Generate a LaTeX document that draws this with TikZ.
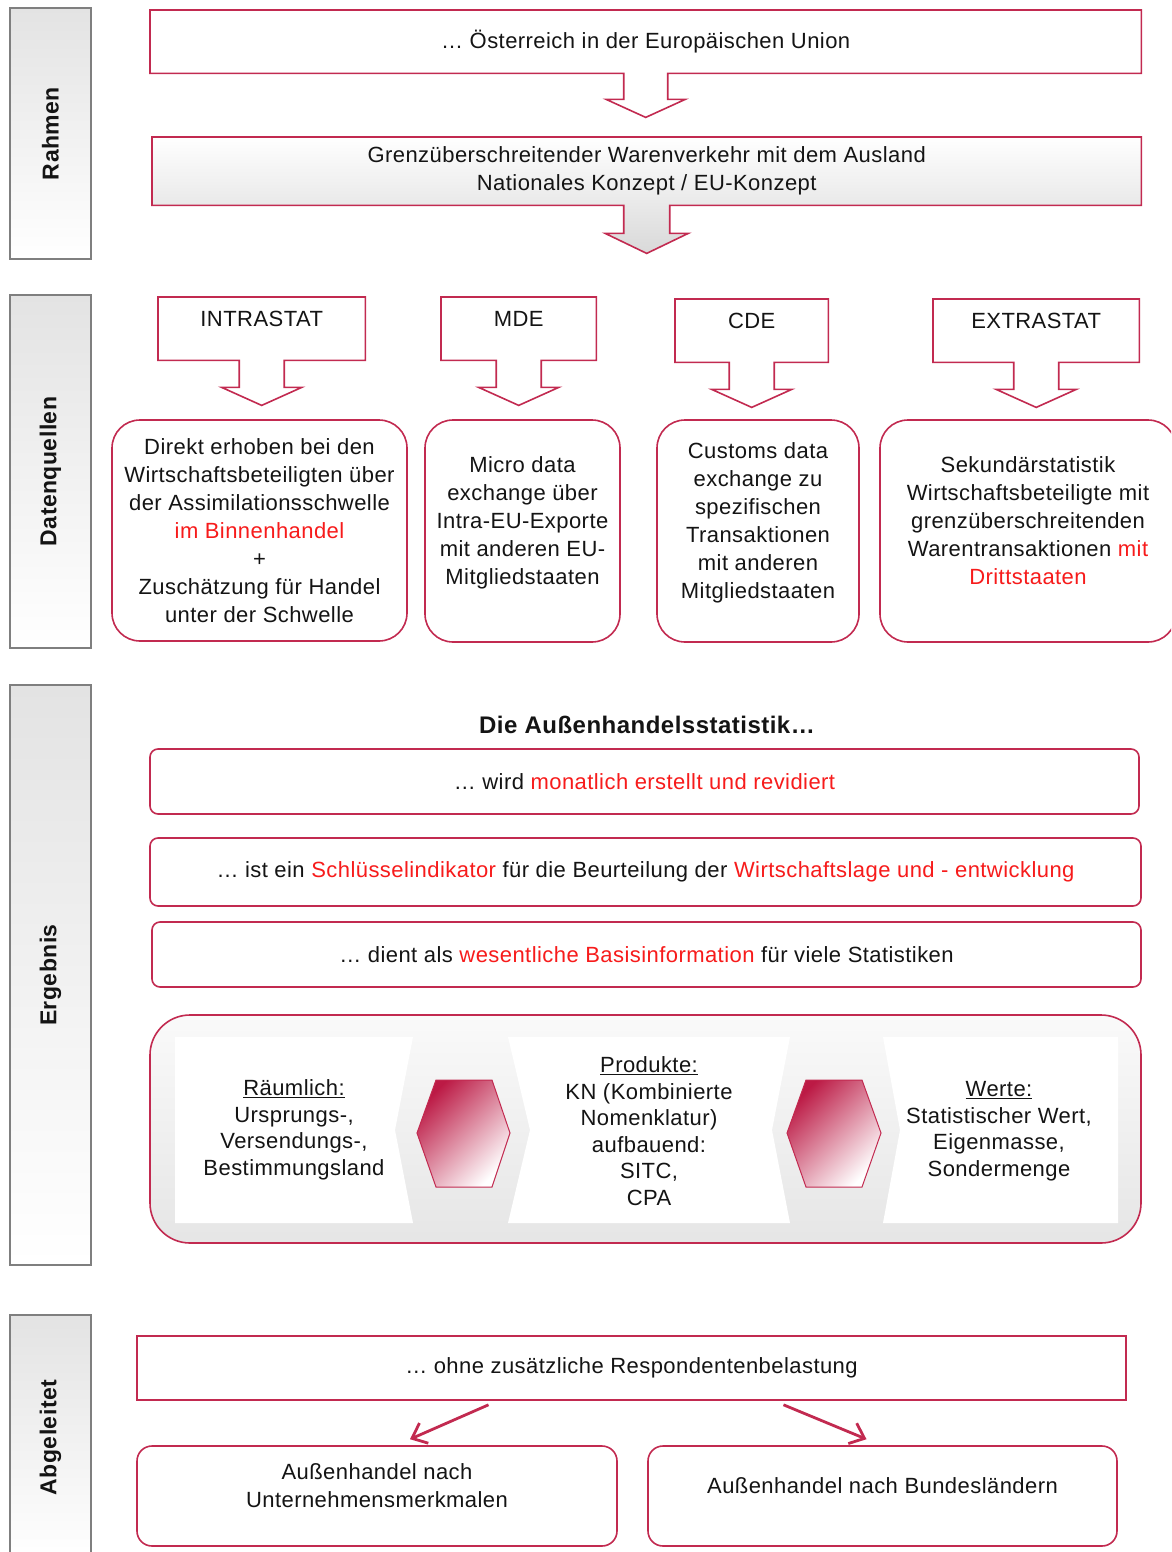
\documentclass[tikz,border=0pt]{standalone}
\usepackage{fontspec}
\setmainfont[LetterSpace=2]{Liberation Sans}
\usetikzlibrary{calc,arrows.meta,backgrounds}

\definecolor{crim}{HTML}{C22A50}
\definecolor{tred}{HTML}{F71B1B}
\definecolor{hexred}{HTML}{BC1A45}
\definecolor{labgray}{HTML}{7F7F7F}
\definecolor{txt}{HTML}{141414}

\newcommand{\rt}[1]{\textcolor{tred}{#1}}
\newcommand{\lift}{\\[-8pt]\mbox{}}
% outline of a box with a down arrow: node, shaft half width, head half width, shaft length, head length
\newcommand{\calloutpath}[5]{(#1.north west) -- (#1.north east) -- (#1.south east)
  -- ($(#1.south)+(#2,0)$) -- ($(#1.south)+(#2,#4)$) -- ($(#1.south)+(#3,#4)$)
  -- ($(#1.south)+(0,#4+#5)$) -- ($(#1.south)+(-#3,#4)$) -- ($(#1.south)+(-#2,#4)$)
  -- ($(#1.south)+(-#2,0)$) -- (#1.south west) -- cycle}

\begin{document}
\begin{tikzpicture}[x=1pt,y=-1pt,
  every node/.style={font=\fontsize{22}{28}\selectfont, text=txt},
  labbox/.style={draw=labgray, line width=1.6pt, rotate=90, top color=gray!22, bottom color=white,
     minimum height=81pt, inner sep=0pt, font=\fontsize{23}{26}\selectfont\bfseries},
  cbord/.style={draw=crim, line width=1.6pt, line join=miter},
  callbox/.style={anchor=north west, inner xsep=0pt, inner ysep=4pt, text height=25pt, text depth=30pt},
  rbox/.style={draw=crim, line width=1.6pt, rounded corners=28pt, fill=white, align=center, inner sep=0pt},
  ebox/.style={draw=crim, line width=1.6pt, rounded corners=8pt, fill=white, inner sep=0pt},
  sbox/.style={draw=crim, line width=1.6pt, fill=white, inner sep=0pt},
  pantext/.style={align=center, font=\fontsize{22}{26.5}\selectfont},
  conn/.style={draw=crim, line width=2.8pt, -{Straight Barb[length=13pt, width=22pt, line width=2.8pt]}}
]
\useasboundingbox (0,0) rectangle (1171,1552);
\clip (0,0) rectangle (1171,1552);

% ---- section labels
\node[labbox, minimum width=251pt] (lrahmen) at (50.5,133.5) {Rahmen};
\node[labbox, minimum width=353pt] (ldaten) at (50.5,471.5) {Datenquellen};
\node[labbox, minimum width=580pt] (lerg) at (50.5,975) {Ergebnis};
\node[labbox, minimum width=245pt] (labg) at (50.5,1437.5) {Abgeleitet};

% ---- Rahmen
\node[anchor=north west, minimum width=991pt, minimum height=63pt, inner sep=0pt] (top1) at (150,10)
  {… Österreich in der Europäischen Union};
\node[anchor=north west, minimum width=989pt, minimum height=68pt, inner sep=0pt, align=center] (top2) at (152,137)
  {Grenzüberschreitender Warenverkehr mit dem Ausland\\Nationales Konzept / EU-Konzept};

% ---- Datenquellen callouts
\node[callbox, minimum width=207pt] (intra) at (158,297) {INTRASTAT};
\node[callbox, minimum width=155pt] (mde) at (441,297) {MDE};
\node[callbox, minimum width=153pt] (cde) at (675,299) {CDE};
\node[callbox, minimum width=206pt] (extra) at (933,299) {EXTRASTAT};

\begin{pgfonlayer}{background}
  \draw[cbord, fill=white] \calloutpath{top1}{22}{39.5}{26}{18};
  \draw[cbord, top color=white, bottom color=gray!30] \calloutpath{top2}{23}{41.5}{28}{20};
  \draw[cbord, fill=white] \calloutpath{intra}{22.5}{40}{27}{18};
  \draw[cbord, fill=white] \calloutpath{mde}{22.5}{40}{27}{18};
  \draw[cbord, fill=white] \calloutpath{cde}{22.5}{40}{27}{18};
  \draw[cbord, fill=white] \calloutpath{extra}{22.5}{40}{27}{18};
\end{pgfonlayer}

\node[rbox, minimum width=295pt, minimum height=221pt] (srcA) at (259.5,530.5)
  {Direkt erhoben bei den\\Wirtschaftsbeteiligten über\\der Assimilationsschwelle\\\rt{im Binnenhandel}\\+\\Zuschätzung für Handel\\unter der Schwelle};
\node[rbox, minimum width=195pt, minimum height=222pt] (srcB) at (522.5,531)
  {Micro data\\exchange über\\Intra-EU-Exporte\\mit anderen EU-\\Mitgliedstaaten\lift};
\node[rbox, minimum width=202pt, minimum height=222pt] (srcC) at (758,531)
  {Customs data\\exchange zu\\spezifischen\\Transaktionen\\mit anderen\\Mitgliedstaaten\lift};
\node[rbox, minimum width=296pt, minimum height=222pt] (srcD) at (1028,531)
  {Sekundärstatistik\\Wirtschaftsbeteiligte mit\\grenzüberschreitenden\\Warentransaktionen \rt{mit}\\\rt{Drittstaaten}\lift};

% ---- Ergebnis
\node[font=\fontsize{24}{28}\selectfont\bfseries] (title) at (647,725) {Die Außenhandelsstatistik…};
\node[ebox, minimum width=989pt, minimum height=65pt] (e1) at (644.5,781.5)
  {… wird \rt{monatlich erstellt und revidiert}};
\node[ebox, minimum width=991pt, minimum height=68pt] (e2) at (645.5,872)
  {… ist ein \rt{Schlüsselindikator} für die Beurteilung der \rt{Wirtschaftslage und - entwicklung}};
\node[ebox, minimum width=989pt, minimum height=65pt] (e3) at (646.5,954.5)
  {… dient als \rt{wesentliche Basisinformation} für viele Statistiken};

% panel
\draw[draw=crim, line width=1.6pt, rounded corners=40pt, top color=gray!4, middle color=gray!15, bottom color=gray!20]
  (150,1015) rectangle (1141,1243);
\fill[white] (175,1037) -- (413,1037) -- (395,1130) -- (413,1223) -- (175,1223) -- cycle;
\fill[white] (508,1037) -- (790,1037) -- (772,1130) -- (790,1223) -- (508,1223) -- (530,1130) -- cycle;
\fill[white] (883,1037) -- (1118,1037) -- (1118,1223) -- (883,1223) -- (900,1130) -- cycle;
\draw[draw=crim, line width=1pt, top color=hexred, bottom color=white, shading angle=45]
  (417,1133) -- (436,1080) -- (492,1080) -- (510,1133) -- (492,1187) -- (436,1187) -- cycle;
\draw[draw=crim, line width=1pt, top color=hexred, bottom color=white, shading angle=45]
  (787,1133) -- (806,1080) -- (862,1080) -- (881,1133) -- (862,1187) -- (806,1187) -- cycle;
\node[pantext] (raeum) at (294,1130) {\underline{Räumlich:}\\Ursprungs-,\\Versendungs-,\\Bestimmungsland};
\node[pantext] (prod) at (649,1131) {\underline{Produkte:}\\KN (Kombinierte\\Nomenklatur)\\aufbauend:\\SITC,\\CPA};
\node[pantext] (werte) at (999,1131) {\underline{Werte:}\\Statistischer Wert,\\Eigenmasse,\\Sondermenge};

% ---- Abgeleitet
\node[sbox, minimum width=989pt, minimum height=64pt] (F) at (631.5,1368) {… ohne zusätzliche Respondentenbelastung};
\node[rbox, rounded corners=15pt, minimum width=480pt, minimum height=100pt] (G) at (377,1496)
  {Außenhandel nach\\Unternehmensmerkmalen\lift};
\node[rbox, rounded corners=15pt, minimum width=469pt, minimum height=100pt] (H) at (882.5,1496)
  {Außenhandel nach Bundesländern\lift};
\draw[conn] ($(F.south)+(-143,4)$) -- ($(G.north)+(33,-6)$);
\draw[conn] ($(F.south)+(152,4)$) -- ($(H.north)+(-16,-6)$);
\end{tikzpicture}
\end{document}
